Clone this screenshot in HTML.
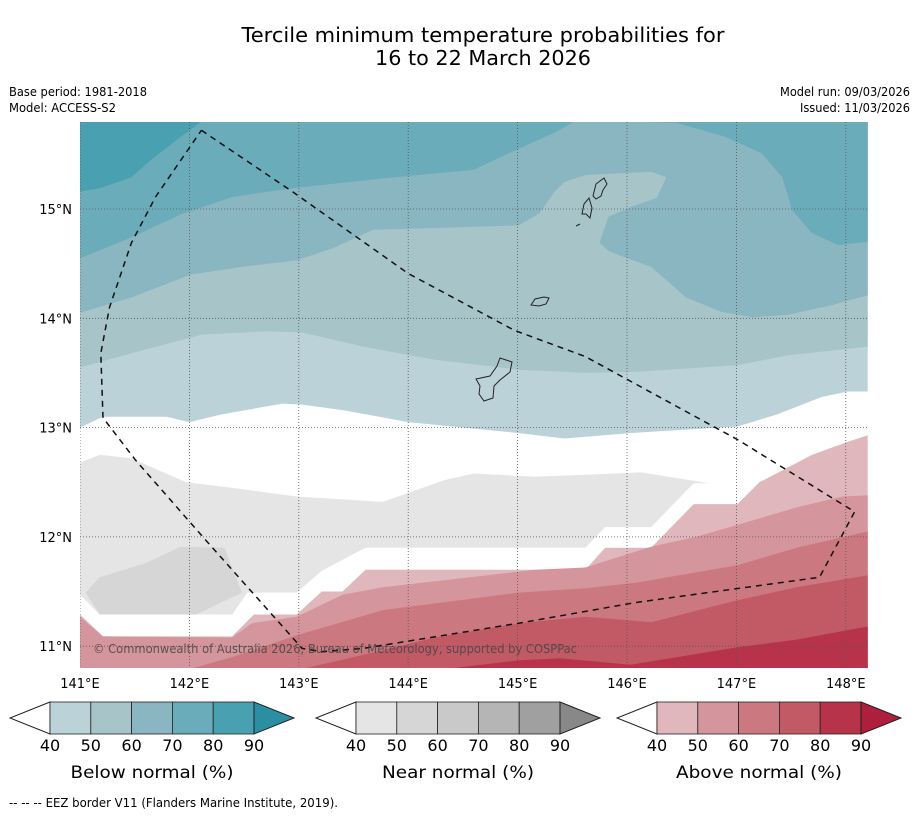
<!DOCTYPE html>
<html><head><meta charset="utf-8">
<style>
html,body{margin:0;padding:0;background:#fff;}
body{width:919px;height:816px;overflow:hidden;font-family:"DejaVu Sans","Liberation Sans",sans-serif;}
</style></head>
<body>
<svg id="chart" width="919" height="816" xmlns="http://www.w3.org/2000/svg" font-family="DejaVu Sans, Liberation Sans, sans-serif">
<text x="483" y="42" font-size="20" text-anchor="middle" textLength="483" lengthAdjust="spacingAndGlyphs">Tercile minimum temperature probabilities for</text>
<text x="483" y="65" font-size="20" text-anchor="middle" textLength="216" lengthAdjust="spacingAndGlyphs">16 to 22 March 2026</text>
<text x="9" y="96" font-size="12" textLength="138" lengthAdjust="spacingAndGlyphs">Base period: 1981-2018</text>
<text x="9" y="112" font-size="12" textLength="107" lengthAdjust="spacingAndGlyphs">Model: ACCESS-S2</text>
<text x="910" y="96" font-size="12" text-anchor="end" textLength="130" lengthAdjust="spacingAndGlyphs">Model run: 09/03/2026</text>
<text x="910" y="112" font-size="12" text-anchor="end" textLength="110" lengthAdjust="spacingAndGlyphs">Issued: 11/03/2026</text>
<defs><clipPath id="mapclip"><rect x="80" y="122" width="788" height="546"/></clipPath></defs>
<g id="map" clip-path="url(#mapclip)"></g>
<g id="axes"></g>
<g id="bars"></g>
<text x="9" y="807" font-size="12" textLength="329" lengthAdjust="spacingAndGlyphs">--  --  -- EEZ border V11 (Flanders Marine Institute, 2019).</text>
</svg>
<script>
// axis extents
const lonTicks = [141,142,143,144,145,146,147,148];
const latTicks = [11,12,13,14,15];
const lonMin = 141, lonMax = 148.2, latMin = 10.8, latMax = 15.8;
// contour boundaries, flat [lon,lat,...]
const below80 = [141.00,15.80, 141.00,15.16, 141.18,15.19, 141.47,15.29, 141.65,15.45, 141.92,15.66, 142.11,15.80];
const below70Left = [141.00,15.80, 141.00,14.55, 141.47,14.74, 141.92,14.95, 142.39,15.11, 142.94,15.19, 143.77,15.28, 144.60,15.36, 144.92,15.51, 145.34,15.70, 145.52,15.80];
const below70Right = [146.03,15.80, 146.45,15.79, 146.90,15.66, 147.23,15.51, 147.42,15.29, 147.51,14.99, 147.69,14.78, 147.93,14.67, 148.20,14.70, 148.20,15.80];
const below60 = [141.00,15.80, 141.00,14.05, 141.47,14.19, 142.01,14.40, 142.48,14.47, 142.98,14.53, 143.31,14.64, 143.68,14.81, 144.00,14.82, 145.01,14.85, 145.20,14.96, 145.34,15.16, 145.43,15.25, 145.62,15.31, 146.22,15.34, 146.36,15.29, 146.27,15.10, 146.04,15.02, 145.83,14.93, 145.75,14.69, 145.84,14.61, 146.22,14.47, 146.54,14.19, 146.86,14.06, 147.14,14.01, 147.46,14.03, 147.87,14.12, 148.20,14.21, 148.20,15.80];
const below50 = [141.00,15.80, 141.00,13.55, 141.47,13.68, 142.11,13.85, 142.71,13.88, 143.03,13.87, 143.59,13.74, 144.24,13.62, 145.01,13.53, 145.62,13.50, 146.08,13.51, 147.01,13.57, 147.46,13.66, 148.20,13.74, 148.20,15.80];
const below40 = [141.00,15.80, 141.00,13.00, 141.21,13.10, 141.79,13.10, 142.00,13.05, 142.29,13.12, 142.85,13.22, 143.03,13.21, 143.40,13.16, 144.00,13.05, 145.01,12.95, 145.43,12.90, 146.03,12.95, 147.01,13.01, 147.37,13.12, 147.78,13.28, 148.02,13.33, 148.20,13.33, 148.20,15.80];
const near40 = [141.00,12.68, 141.18,12.75, 141.47,12.72, 141.97,12.50, 142.39,12.45, 142.98,12.37, 143.77,12.32, 144.33,12.52, 144.60,12.58, 145.16,12.55, 146.13,12.59, 146.75,12.49, 146.61,12.49, 146.22,12.09, 145.80,12.09, 145.62,11.90, 143.61,11.90, 143.21,11.69, 142.98,11.49, 142.53,11.49, 142.39,11.29, 141.18,11.29, 141.00,11.47];
const near50 = [141.05,11.49, 141.18,11.63, 141.60,11.76, 141.92,11.91, 142.32,11.90, 142.48,11.49, 142.06,11.29, 141.18,11.29];
const above40 = [141.00,11.29, 141.21,11.09, 142.39,11.09, 142.59,11.29, 142.98,11.29, 143.21,11.50, 143.40,11.50, 143.61,11.70, 145.62,11.70, 145.80,11.90, 146.22,11.90, 146.61,12.30, 147.01,12.30, 147.21,12.50, 147.69,12.75, 148.02,12.87, 148.20,12.93, 148.20,10.80, 141.00,10.80];
const above50 = [141.00,11.27, 141.21,11.09, 142.39,11.08, 142.57,11.21, 142.98,11.27, 143.40,11.47, 143.77,11.54, 145.16,11.70, 145.62,11.72, 146.22,11.91, 146.63,12.00, 147.01,12.11, 147.55,12.27, 147.97,12.37, 148.20,12.38, 148.20,10.80, 141.00,10.80];
const above60 = [141.97,10.78, 142.39,10.90, 142.98,11.10, 143.77,11.33, 145.01,11.49, 145.62,11.53, 146.08,11.58, 147.01,11.74, 147.55,11.90, 148.20,12.05, 148.20,10.78];
const above70 = [142.98,10.78, 143.59,10.92, 144.24,11.08, 145.01,11.21, 145.62,11.27, 146.22,11.22, 147.01,11.42, 147.55,11.54, 148.20,11.65, 148.20,10.78];
const above80 = [144.24,10.78, 145.01,10.87, 145.39,10.89, 146.03,10.83, 147.01,10.99, 147.55,11.06, 148.20,11.18, 148.20,10.78];
const eez = [142.11,15.72, 142.94,15.16, 144.00,14.41, 144.97,13.89, 145.62,13.65, 147.01,12.89, 148.08,12.23, 147.76,11.63, 146.08,11.40, 145.01,11.21, 143.59,10.98, 143.21,10.95, 143.03,10.98, 142.15,11.97, 141.51,12.70, 141.21,13.09, 141.19,13.68, 141.27,14.10, 141.47,14.69, 141.69,15.11, 142.11,15.72];
const barLabels = ["40","50","60","70","80","90"];
const belowColors = ["#bcd2d9","#a7c5c9","#89b6c1","#6aacba","#48a0b1","#2a8fa3"];
const nearColors = ["#e5e5e5","#d6d6d6","#c9c9c9","#b5b5b5","#a0a0a0","#888888"];
const aboveColors = ["#e0b7bd","#d4959c","#cc7880","#c25a66","#b7334a","#ae1f3c"];

const NS="http://www.w3.org/2000/svg";
const X = lon => 80 + (lon-141)*109.4;
const Y = lat => 209 - (lat-15)*109.3;
function mk(tag, attrs, parent){const e=document.createElementNS(NS,tag);for(const k in attrs)e.setAttribute(k,attrs[k]);parent.appendChild(e);return e;}
function pts(a){let s=[];for(let i=0;i<a.length;i+=2)s.push(X(a[i]).toFixed(1)+","+Y(a[i+1]).toFixed(1));return s.join(" ");}
const map=document.getElementById('map');
const layers=[
 ["below-40-50",below40,belowColors[0]],["below-50-60",below50,belowColors[1]],["below-60-70",below60,belowColors[2]],
 ["below-70-80-left",below70Left,belowColors[3]],["below-70-80-right",below70Right,belowColors[3]],["below-80-90",below80,belowColors[4]],
 ["near-40-50",near40,nearColors[0]],["near-50-60",near50,nearColors[1]],
 ["above-40-50",above40,aboveColors[0]],["above-50-60",above50,aboveColors[1]],["above-60-70",above60,aboveColors[2]],
 ["above-70-80",above70,aboveColors[3]],["above-80-90",above80,aboveColors[4]]];
layers.forEach(l=>{
 const p=mk('polygon',{points:pts(l[1]),fill:l[2]},map);
 
 
});
// gridlines
lonTicks.forEach(v=>{const g=mk('line',{x1:X(v),x2:X(v),y1:122,y2:668,stroke:'#555','stroke-width':0.8,'stroke-dasharray':'1,2'},map);
 
 });
latTicks.forEach(v=>{const g=mk('line',{x1:80,x2:868,y1:Y(v),y2:Y(v),stroke:'#555','stroke-width':0.8,'stroke-dasharray':'1,2'},map);
 
 });
// islands
const isl=[["guam","M476,379 L490,376 L497,366 L500,358 L506,360 L512,362 L510,372 L500,380 L494,386 L493,398 L484,401 L479,394 L480,386 Z"],
 ["rota","M531,305 L535,299 L544,297 L549,298 L546,304 L539,306 Z"],
 ["tinian","M582,214 L584,204 L589,198 L592,208 L590,218 L586,214 Z"],
 ["saipan","M593,196 L596,184 L604,178 L607,184 L603,190 L601,196 L596,199 Z"],
 ["aguijan","M576,226 L580,224"]];
isl.forEach(i=>{const p=mk('path',{d:i[1],fill:'none',stroke:'#222','stroke-width':1},map);
 
 });
const ez=mk('polyline',{points:pts(eez),fill:'none',stroke:'#111','stroke-width':1.5,'stroke-dasharray':'6,5'},map);


const cr=mk('text',{x:93,y:653,'font-size':12,fill:'#444','fill-opacity':0.85,textLength:484,lengthAdjust:'spacingAndGlyphs'},map);
cr.textContent="© Commonwealth of Australia 2026, Bureau of Meteorology, supported by COSPPac";


// axis labels
const axes=document.getElementById('axes');
lonTicks.forEach(v=>{const t=mk('text',{x:X(v),y:688,'font-size':13,'text-anchor':'middle'},axes);t.textContent=v+"°E";
 
 });
latTicks.forEach(v=>{const t=mk('text',{x:72,y:Y(v)+5,'font-size':13,'text-anchor':'end'},axes);t.textContent=v+"°N";
 
 });
// colorbars
const bars=document.getElementById('bars');
function colorbar(x0,colors,title,name,tw){
 const g=mk('g',{},bars);
 
 
 const w=40.8, y0=702, h=32, L=x0+40;
 mk('polygon',{points:`${L},${y0} ${x0},${y0+h/2} ${L},${y0+h}`,fill:'#fff',stroke:'#222','stroke-width':1},g);
 for(let i=0;i<5;i++)mk('rect',{x:L+i*w,y:y0,width:w,height:h,fill:colors[i],stroke:'#222','stroke-width':0.8},g);
 const R=L+5*w;
 mk('polygon',{points:`${R},${y0} ${R+40},${y0+h/2} ${R},${y0+h}`,fill:colors[5],stroke:'#222','stroke-width':1},g);
 barLabels.forEach((s,i)=>{const t=mk('text',{x:L+i*w,y:751,'font-size':16,'text-anchor':'middle'},g);t.textContent=s;
  
  });
 const t=mk('text',{x:L+2.5*w,y:778,'font-size':17,'text-anchor':'middle',textLength:tw,lengthAdjust:'spacingAndGlyphs'},g);t.textContent=title;
 
 
}
colorbar(10,belowColors,"Below normal (%)","below-normal-colorbar",163);
colorbar(316,nearColors,"Near normal (%)","near-normal-colorbar",152);
colorbar(617,aboveColors,"Above normal (%)","above-normal-colorbar",166);
</script>
</body></html>
